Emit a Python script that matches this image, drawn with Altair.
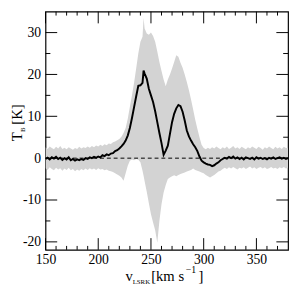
import altair as alt
import pandas as pd

# ---- data ----
velocity = [150,152,154,156,158,160,162,164,166,168,170,172,174,176,178,180,182,184,186,188,
            190,192,194,196,198,200,202,204,206,208,210,212,214,216,218,220,222,224,226,228,
            230,232,234,236,238,240,242,243,244,246,248,250,252,254,256,258,260,262,264,266,
            268,270,272,274,276,278,280,282,284,286,288,290,292,294,296,298,300,302,304,306,
            308,310,312,314,316,318,320,322,324,326,328,330,332,334,336,338,340,342,344,346,
            348,350,352,354,356,358,360,362,364,366,368,370,372,374,376,378,380]

t_mean = [-0.2,0.1,-0.3,0.2,-0.1,0.3,-0.2,0.1,-0.4,0.0,-0.3,0.2,-0.5,-0.2,-0.6,-0.3,-0.5,-0.2,-0.4,0.0,
          -0.2,0.2,0.0,0.3,0.1,0.4,0.2,0.7,0.5,0.9,0.7,1.1,1.2,1.7,1.9,2.3,2.8,3.4,4.2,5.4,
          7.2,9.6,12.2,14.8,17.3,17.4,18.0,20.9,20.2,19.0,16.6,15.0,13.4,11.2,8.6,6.0,3.6,0.8,1.8,3.0,
          5.8,8.6,10.6,11.9,12.7,12.4,11.1,9.0,6.6,5.2,4.2,3.3,2.6,1.7,0.4,-0.6,-1.0,-1.3,-1.5,-1.6,
          -1.9,-1.7,-1.3,-1.0,-0.5,-0.2,0.1,-0.1,0.3,0.0,0.4,-0.1,0.2,-0.2,0.1,-0.3,0.2,0.0,-0.2,0.1,
          -0.3,0.2,-0.1,0.1,-0.2,0.0,-0.3,0.1,-0.1,0.2,-0.2,0.0,0.2,-0.1,0.1,-0.2,0.0]

t_high = [2.6,2.2,2.8,2.4,2.1,2.7,2.3,2.9,2.2,2.5,2.1,2.6,2.3,2.0,2.4,2.2,2.7,2.3,2.6,2.4,
          2.8,2.5,2.9,2.6,3.0,2.8,3.2,2.9,3.3,3.1,3.5,3.4,3.8,4.0,4.3,4.6,5.1,6.0,7.2,9.4,
          12.3,15.0,18.0,21.5,25.0,27.8,29.0,33.5,31.0,29.8,29.5,30.0,29.2,27.8,25.5,23.0,20.8,18.8,17.2,18.8,
          20.0,21.4,23.0,24.6,24.2,22.8,21.6,20.0,18.2,16.2,14.0,11.6,9.2,7.0,5.0,3.2,2.4,2.1,2.5,2.2,
          2.6,2.3,2.8,2.4,2.1,2.6,2.3,2.8,2.2,2.5,2.9,2.3,2.6,2.2,2.7,2.4,2.1,2.6,2.3,2.8,
          2.5,2.2,2.7,2.4,2.0,2.6,2.3,2.8,2.4,2.1,2.7,2.3,2.6,2.2,2.7,2.4,2.5]

t_low = [-2.4,-2.8,-2.2,-2.6,-2.9,-2.3,-2.7,-2.4,-3.0,-2.5,-2.8,-2.3,-2.9,-2.6,-3.1,-2.7,-3.0,-2.6,-2.9,-2.5,
         -2.8,-2.4,-2.7,-2.5,-2.8,-2.4,-2.7,-2.6,-2.9,-2.7,-3.0,-3.1,-3.3,-3.6,-3.9,-4.2,-4.6,-5.4,-3.6,-1.8,
         -0.6,-0.3,-0.5,-0.2,-0.4,-1.0,-3.0,-4.2,-5.5,-8.0,-10.8,-13.4,-15.4,-17.2,-20.2,-15.0,-11.0,-8.2,-6.4,-5.0,
         -4.6,-4.3,-4.1,-4.3,-4.0,-3.8,-3.6,-3.4,-3.2,-3.0,-2.8,-2.5,-2.8,-3.0,-3.2,-3.4,-3.6,-4.0,-4.3,-4.6,
         -4.3,-4.0,-3.6,-3.2,-3.0,-2.6,-2.3,-2.6,-2.2,-2.5,-2.1,-2.4,-2.7,-2.3,-2.5,-2.2,-2.6,-2.3,-2.0,-2.5,
         -2.2,-2.6,-2.3,-2.1,-2.5,-2.2,-2.6,-2.4,-2.1,-2.5,-2.3,-2.6,-2.2,-2.4,-2.1,-2.5,-2.3]

x_major = [150, 200, 250, 300, 350]
x_minor = [160, 170, 180, 190, 210, 220, 230, 240, 260, 270, 280, 290,
           310, 320, 330, 340, 360, 370]
y_major = [-20, -10, 0, 10, 20, 30]
y_minor = [-15, -5, 5, 15, 25]

FONT = "Liberation Serif"
W, H = 249, 244.5

df = pd.DataFrame({"v": velocity, "t": t_mean, "hi": t_high, "lo": t_low})
xs = alt.Scale(domain=[150, 380], nice=False, zero=False)
ys = alt.Scale(domain=[-21.9, 35], nice=False, zero=False)

xaxis = alt.Axis(values=x_major, title=None, ticks=False, tickSize=0, domain=False, grid=False,
                 labelFont=FONT, labelFontSize=14, labelColor="black", labelPadding=3,
                 labelFlush=False, labelExpr="'' + datum.value")
yaxis = alt.Axis(values=y_major, title=None, ticks=False, tickSize=0, domain=False, grid=False,
                 labelFont=FONT, labelFontSize=14, labelColor="black", labelPadding=5,
                 labelExpr="'' + datum.value")

band = alt.Chart(df).mark_area(color="#d3d3d3", clip=True).encode(
    x=alt.X("v:Q", scale=xs, axis=xaxis),
    y=alt.Y("lo:Q", scale=ys, axis=yaxis),
    y2="hi:Q",
)

zero = alt.Chart(pd.DataFrame({"z": [0]})).mark_rule(
    color="black", strokeDash=[4, 3], strokeWidth=1
).encode(y=alt.Y("z:Q", scale=ys))

line = alt.Chart(df).mark_line(color="black", strokeWidth=2, clip=True).encode(
    x=alt.X("v:Q", scale=xs), y=alt.Y("t:Q", scale=ys)
)

dxM = pd.DataFrame({"p": x_major})
dxm = pd.DataFrame({"p": x_minor})
dyM = pd.DataFrame({"p": y_major})
dym = pd.DataFrame({"p": y_minor})

def xt(d, y1, y2):
    return alt.Chart(d).mark_rule(color="black", strokeWidth=1).encode(
        x=alt.X("p:Q", scale=xs), y=alt.value(y1), y2=alt.value(y2))

def yt(d, x1, x2):
    return alt.Chart(d).mark_rule(color="black", strokeWidth=1).encode(
        y=alt.Y("p:Q", scale=ys), x=alt.value(x1), x2=alt.value(x2))

ticks = [
    xt(dxM, H, H - 12), xt(dxM, 0, 12), xt(dxm, H, H - 4), xt(dxm, 0, 4),
    yt(dyM, 0, 12), yt(dyM, W, W - 12), yt(dym, 0, 5), yt(dym, W, W - 5),
]

one = pd.DataFrame({"a": [0]})

def txt(s, x, y, size, angle=0):
    return alt.Chart(one).mark_text(
        font=FONT, fontSize=size, color="black", align="left", baseline="alphabetic", angle=angle
    ).encode(x=alt.value(x), y=alt.value(y), text=alt.value(s))

OX, OY = 46.5, 8
titles = [
    txt("v", 128.5 - OX, 285 - OY, 15),
    txt("LSRK", 136 - OX, 288 - OY, 7),
    txt("[km s", 155 - OX, 285 - OY, 15),
    txt("\u22121", 190.5 - OX, 276 - OY, 10),
    txt("]", 203.5 - OX, 285 - OY, 15),
    txt("T", 22 - OX, 141 - OY, 15, 270),
    txt("B", 25 - OX, 131.5 - OY, 7, 270),
    txt("[K]", 22 - OX, 124 - OY, 15, 270),
]

chart = alt.layer(band, zero, line, *ticks, *titles).properties(
    width=W, height=H,
    autosize=alt.AutoSizeParams(type="none"),
    padding={"left": 38.5, "top": 0, "right": 2, "bottom": 38},
).configure_view(stroke="black", strokeWidth=1.2)

chart.save("out.html", embed_options={"renderer": "svg", "actions": False})
